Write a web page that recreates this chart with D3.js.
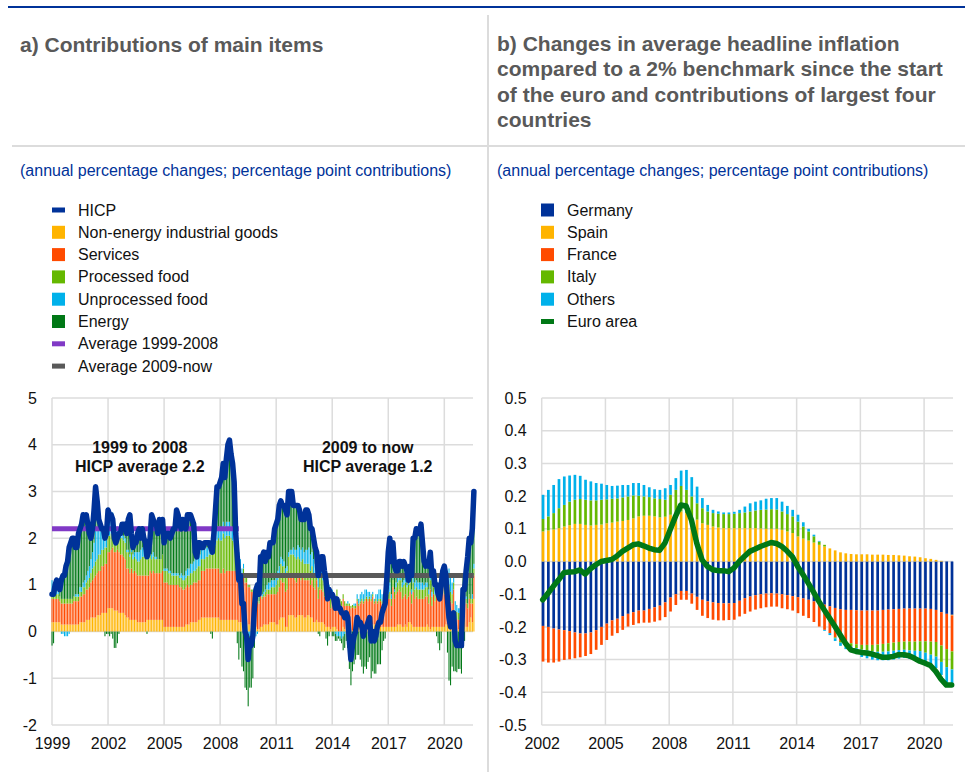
<!DOCTYPE html>
<html>
<head>
<meta charset="utf-8">
<script src="https://cdn.jsdelivr.net/npm/d3@7"></script>
<style>
  body { margin: 0; background: #fff; }
  svg { font-family: "Liberation Sans", Arial, sans-serif; }
</style>
</head>
<body>
<div id="chart"></div>
<script>
// ---------- panel a: monthly, Jan 1999 - Aug 2021 ----------
const hicp = [
  0.8,0.8,1.0,1.1,1.0,0.9,1.1,1.2,1.2,1.4,1.5,1.8,        // 1999
  1.9,2.0,2.0,1.8,1.8,2.1,2.2,2.3,2.5,2.4,2.5,2.3,        // 2000
  2.1,2.0,2.2,2.6,3.1,2.8,2.4,2.3,2.2,2.2,2.0,2.1,        // 2001
  2.6,2.5,2.5,2.4,2.0,1.9,2.0,2.1,2.1,2.3,2.3,2.3,        // 2002
  2.1,2.4,2.5,2.1,1.8,1.9,1.9,2.1,2.2,2.0,2.2,2.0,        // 2003
  1.9,1.6,1.7,2.0,2.5,2.4,2.3,2.3,2.1,2.4,2.2,2.4,        // 2004
  1.9,2.1,2.1,2.1,2.0,2.1,2.2,2.2,2.6,2.5,2.3,2.2,        // 2005
  2.4,2.3,2.2,2.5,2.5,2.5,2.4,2.3,1.7,1.6,1.9,1.9,        // 2006
  1.8,1.8,1.9,1.9,1.9,1.9,1.8,1.7,2.1,2.6,3.1,3.1,        // 2007
  3.2,3.3,3.6,3.3,3.7,4.0,4.1,3.8,3.6,3.2,2.1,1.6,        // 2008
  1.1,1.2,0.6,0.6,0.0,-0.1,-0.6,-0.2,-0.3,-0.1,0.5,0.9,   // 2009
  1.0,0.8,1.6,1.6,1.7,1.5,1.7,1.6,1.9,1.9,1.9,2.2,        // 2010
  2.3,2.4,2.7,2.8,2.7,2.7,2.6,2.5,3.0,3.0,3.0,2.7,        // 2011
  2.7,2.7,2.7,2.6,2.4,2.4,2.4,2.6,2.6,2.5,2.2,2.2,        // 2012
  2.0,1.8,1.7,1.2,1.4,1.6,1.6,1.3,1.1,0.7,0.9,0.8,        // 2013
  0.8,0.7,0.5,0.7,0.5,0.5,0.4,0.4,0.3,0.4,0.3,-0.2,       // 2014
  -0.6,-0.3,-0.1,0.0,0.3,0.2,0.2,0.1,-0.1,0.1,0.1,0.2,    // 2015
  0.3,-0.2,0.0,-0.2,-0.1,0.1,0.2,0.2,0.4,0.5,0.6,1.1,     // 2016
  1.7,2.0,1.5,1.9,1.4,1.3,1.3,1.5,1.5,1.4,1.5,1.4,        // 2017
  1.3,1.1,1.4,1.2,2.0,2.0,2.2,2.1,2.1,2.3,1.9,1.5,        // 2018
  1.4,1.5,1.4,1.7,1.2,1.3,1.0,1.0,0.8,0.7,1.0,1.3,        // 2019
  1.4,1.2,0.7,0.3,0.1,0.3,0.4,-0.2,-0.3,-0.3,-0.3,-0.3,   // 2020
  0.9,0.9,1.3,1.6,2.0,1.9,2.2,3.0                         // 2021
];

const neig = [
  .2,.2,.2,.2,.2,.2,.15,.15,.15,.15,.15,.15,
  .15,.15,.15,.15,.15,.15,.2,.2,.2,.2,.25,.25,
  .25,.3,.3,.3,.3,.35,.35,.35,.4,.4,.4,.4,
  .5,.5,.5,.5,.45,.45,.45,.4,.4,.4,.4,.35,
  .3,.3,.25,.25,.25,.25,.25,.2,.2,.2,.2,.2,
  .2,.25,.25,.25,.25,.25,.25,.25,.25,.25,.25,.25,
  .1,.1,.1,.1,.1,.1,.1,.1,.1,.1,.1,.1,
  .1,.1,.15,.15,.15,.2,.2,.2,.2,.2,.25,.25,
  .3,.3,.3,.3,.3,.3,.3,.3,.3,.3,.3,.3,
  .25,.25,.25,.25,.25,.25,.25,.25,.25,.25,.25,.25,
  .2,.2,.2,.2,.2,.2,.15,.15,.1,.1,.1,.1,
  .05,.05,.1,.1,.15,.15,.15,.15,.2,.2,.2,.2,
  .15,.15,.25,.3,.3,.3,.1,.1,.35,.35,.35,.35,
  .3,.3,.35,.35,.35,.35,.3,.3,.35,.35,.3,.3,
  .2,.2,.25,.2,.2,.2,.2,.15,.1,.1,.1,.05,
  .1,.1,.1,.05,0,0,0,.1,.05,0,0,0,
  0,.02,.05,.05,.05,.1,.1,.1,.1,.1,.15,.15,
  .15,.2,.15,.15,.15,.1,.1,.1,.1,.1,.1,.1,
  .1,.1,.1,.1,.1,.1,.15,.15,.15,.1,.1,.15,
  .1,.2,.2,.15,.1,.1,.1,.1,.1,.1,.1,.1,
  .1,.15,.1,.05,.1,.1,.1,.1,.1,.1,.1,.1,
  .1,.15,.15,.1,.1,.05,.45,-.05,.02,.05,-.02,.05,
  .4,.3,.1,.1,.2,.3,.2,.7
];

const services = [
  .5,.5,.5,.5,.5,.45,.45,.45,.45,.45,.45,.45,
  .45,.45,.5,.5,.5,.5,.55,.55,.6,.6,.65,.65,
  .7,.75,.8,.85,.9,.9,.95,.95,1.0,1.0,1.05,1.05,
  1.2,1.2,1.25,1.3,1.25,1.25,1.3,1.3,1.25,1.25,1.2,1.2,
  1.05,1.05,1.0,1.1,1.0,1.05,1.0,1.0,1.0,1.0,1.0,1.0,
  1.0,.95,.95,1.05,1.0,1.05,1.0,1.0,1.0,1.0,1.0,1.05,
  .95,.95,.95,.9,.9,.9,.9,.9,.9,.9,.85,.85,
  .8,.8,.8,.85,.8,.8,.8,.85,.85,.85,.85,.85,
  1.0,1.0,1.0,1.05,1.05,1.05,1.05,1.05,1.05,1.05,1.05,1.05,
  1.0,1.0,1.1,1.0,1.05,1.05,1.05,1.05,1.05,1.05,1.05,1.0,
  .95,.9,.8,1.0,.85,.85,.8,.8,.75,.75,.7,.7,
  .6,.55,.7,.6,.6,.6,.65,.65,.6,.6,.6,.6,
  .65,.7,.7,.8,.75,.75,.75,.8,.8,.8,.8,.8,
  .8,.75,.8,.8,.75,.8,.8,.8,.75,.75,.7,.8,
  .75,.7,.85,.5,.7,.7,.65,.6,.65,.55,.6,.45,
  .6,.55,.45,.7,.5,.6,.55,.6,.5,.55,.55,.55,
  .5,.5,.45,.45,.6,.45,.5,.55,.5,.55,.55,.5,
  .55,.45,.6,.45,.5,.5,.55,.55,.5,.5,.5,.55,
  .6,.6,.45,.85,.6,.7,.7,.75,.7,.6,.65,.65,
  .6,.55,.65,.45,.75,.6,.65,.6,.6,.6,.6,.6,
  .65,.6,.5,.85,.45,.7,.55,.65,.65,.7,.85,.85,
  .7,.7,.6,.7,.55,.55,.45,.3,.25,.2,.25,.3,
  .6,.55,.5,.4,.5,.3,.4,.5
];

const procFood = [
  .15,.15,.15,.1,.1,.1,.1,.1,.1,.1,.1,.1,
  .1,.1,.1,.1,.1,.1,.1,.1,.15,.15,.15,.2,
  .2,.2,.25,.25,.3,.3,.35,.35,.35,.35,.35,.35,
  .35,.35,.35,.35,.35,.35,.35,.35,.35,.35,.35,.35,
  .35,.35,.35,.35,.3,.3,.3,.3,.3,.35,.4,.4,
  .4,.35,.35,.35,.3,.3,.3,.3,.3,.3,.3,.35,
  .25,.25,.25,.25,.25,.2,.2,.2,.2,.2,.2,.2,
  .2,.2,.2,.2,.25,.25,.25,.25,.25,.3,.3,.3,
  .25,.25,.25,.25,.25,.3,.3,.35,.4,.5,.6,.65,
  .7,.7,.75,.75,.75,.75,.75,.7,.65,.6,.5,.4,
  .3,.25,.2,.15,.1,.1,.05,.05,.05,.05,.05,.05,
  .05,.05,.05,.05,.05,.1,.1,.1,.1,.15,.15,.15,
  .2,.25,.3,.35,.35,.35,.4,.4,.45,.5,.5,.5,
  .5,.5,.45,.4,.4,.4,.35,.35,.35,.35,.3,.3,
  .3,.3,.25,.25,.25,.25,.25,.25,.25,.2,.2,.2,
  .15,.15,.15,.15,.15,.1,.1,.1,.1,.05,.05,.05,
  .05,.05,.05,.05,.05,.05,.05,.05,.05,.05,.05,.05,
  .05,.05,.05,.05,.05,.05,.05,.05,.05,.05,.1,.1,
  .1,.15,.15,.15,.15,.15,.2,.2,.25,.25,.25,.25,
  .25,.25,.2,.2,.2,.2,.2,.2,.2,.2,.2,.2,
  .2,.2,.2,.2,.2,.15,.15,.15,.15,.15,.15,.15,
  .15,.15,.15,.2,.2,.2,.15,.15,.15,.15,.15,.15,
  .15,.15,.1,.1,.1,.1,.1,.15
];

const unprocFood = [
  .25,.2,.15,.1,.05,0,-.05,-.05,-.1,-.1,-.1,-.05,
  0,0,0,.05,.05,.05,.1,.1,.1,.15,.15,.2,
  .25,.3,.35,.5,.65,.6,.55,.5,.4,.3,.3,.35,
  .6,.55,.45,.4,.3,.2,.15,.1,.1,.15,.1,.1,
  .05,.05,.05,.05,.1,.1,.15,.2,.2,.2,.2,.15,
  .15,.1,.1,.1,.1,.1,.05,.05,0,0,0,0,
  .05,.05,.05,.05,.05,.05,.05,.05,.05,.05,.05,.1,
  .1,.1,.15,.15,.15,.2,.2,.2,.25,.25,.25,.25,
  .2,.2,.2,.2,.2,.2,.2,.15,.2,.2,.25,.25,
  .25,.25,.25,.25,.3,.3,.3,.25,.25,.25,.25,.2,
  .25,.2,.15,.1,.05,0,-.05,-.1,-.1,-.1,-.1,-.1,
  -.05,0,.05,.05,.05,.05,.1,.15,.15,.15,.15,.15,
  .15,.2,.15,.15,.15,.1,.1,.1,.1,.1,.1,.15,
  .15,.2,.25,.25,.25,.25,.25,.3,.3,.35,.35,.3,
  .3,.25,.3,.3,.35,.35,.35,.3,.25,.15,.1,.1,
  .05,0,-.05,-.1,-.1,-.1,-.15,-.1,-.05,0,.05,0,
  0,0,.05,.05,.1,.1,.15,.15,.15,.2,.15,.15,
  .1,.1,.05,.05,.1,.15,.2,.2,.15,.05,.05,.1,
  .1,.2,.1,0,.05,.1,.1,.1,.1,.1,.1,.1,
  .05,.05,.05,.1,.1,.15,.15,.15,.15,.15,.15,.1,
  .1,.1,.1,.1,.1,.15,.2,.2,.15,.15,.15,.15,
  .15,.2,.25,.35,.4,.25,.2,.2,.15,.1,.1,.1,
  .1,.1,.05,0,0,0,.1,.1
];

const energy = [
  -.3,-.25,0,.2,.15,.15,.45,.55,.6,.8,.9,1.15,
  1.2,1.3,1.25,1.0,1.0,1.3,1.25,1.35,1.45,1.3,1.3,1.0,
  .7,.45,.5,.7,.95,.65,.2,.15,.05,.1,-.1,-.05,
  -.05,-.1,-.05,-.15,-.35,-.35,-.25,-.05,0,.15,.25,.3,
  .35,.65,.85,.35,.15,.2,.2,.4,.5,.25,.4,.25,
  .15,-.05,.05,.25,.85,.7,.7,.7,.55,.85,.65,.75,
  .55,.75,.75,.8,.7,.85,.95,.95,1.35,1.25,1.1,.95,
  1.2,1.1,.9,1.15,1.15,1.05,.95,.8,.15,0,.25,.25,
  .05,.05,.15,.1,.1,.05,-.05,-.15,.15,.55,.9,.85,
  1.0,1.1,1.25,1.05,1.35,1.65,1.75,1.55,1.4,1.05,.05,-.25,
  -.6,-.35,-.75,-.85,-1.2,-1.25,-1.55,-1.1,-1.1,-.9,-.25,.15,
  .35,.15,.7,.8,.85,.6,.7,.55,.85,.8,.8,1.1,
  1.15,1.1,1.3,1.2,1.15,1.2,1.25,1.1,1.3,1.25,1.25,.9,
  .95,.95,.85,.8,.65,.6,.7,.85,.85,.7,.55,.5,
  .45,.35,.05,-.05,-.1,.1,.15,0,-.15,-.3,-.1,0,
  -.1,-.1,-.15,-.1,-.05,-.1,-.1,-.3,-.3,-.2,-.35,-.8,
  -1.15,-.85,-.7,-.6,-.5,-.5,-.6,-.75,-.9,-.75,-.8,-.65,
  -.55,-1.0,-.85,-.9,-.9,-.7,-.7,-.7,-.4,-.2,-.15,.25,
  .8,.95,.7,.8,.5,.25,.15,.3,.3,.35,.4,.25,
  .3,.05,.3,.3,.85,.95,1.1,1.05,1.05,1.25,.85,.5,
  .35,.45,.5,.5,.35,.2,0,-.1,-.25,-.4,-.25,.05,
  .3,0,-.45,-1.05,-1.15,-.75,-.85,-.8,-.87,-.8,-.78,-.9,
  -.35,-.2,.55,1.0,1.2,1.2,1.4,1.55
];

const avgLabels = ["Average 1999-2008", "Average 2009-now"];
const avgValues = [2.2, 1.2];
const avgFrom = [1999, 2009];
const avgTo = [2009, 2021.58];

const yearTicksA = [1999, 2002, 2005, 2008, 2011, 2014, 2017, 2020];
const valueTicksA = [-2, -1, 0, 1, 2, 3, 4, 5];

// ---------- panel b: quarterly, 2002Q1 - 2021Q2 ----------
const germany = [
  -0.197,-0.200,-0.205,-0.208, -0.210,-0.213,-0.217,-0.220,
  -0.220,-0.217,-0.210,-0.200, -0.190,-0.180,-0.175,-0.167,
  -0.160,-0.155,-0.150,-0.150, -0.145,-0.140,-0.135,-0.125,
  -0.110,-0.100,-0.090,-0.090, -0.098,-0.108,-0.117,-0.122,
  -0.125,-0.127,-0.128,-0.128, -0.127,-0.120,-0.112,-0.107,
  -0.103,-0.100,-0.098,-0.097, -0.098,-0.100,-0.103,-0.106,
  -0.109,-0.113,-0.117,-0.122, -0.127,-0.132,-0.137,-0.142,
  -0.146,-0.148,-0.148,-0.149, -0.150,-0.150,-0.150,-0.150,
  -0.148,-0.147,-0.146,-0.145, -0.144,-0.144,-0.144,-0.144,
  -0.144,-0.145,-0.148,-0.155, -0.160,-0.163
];
const spain = [
  0.092,0.095,0.098,0.102, 0.107,0.111,0.115,0.115,
  0.112,0.110,0.112,0.113, 0.117,0.119,0.122,0.124,
  0.127,0.132,0.138,0.140, 0.140,0.138,0.135,0.137,
  0.143,0.148,0.153,0.148, 0.138,0.128,0.117,0.112,
  0.107,0.104,0.102,0.102, 0.102,0.102,0.102,0.102,
  0.102,0.101,0.100,0.100, 0.100,0.097,0.092,0.087,
  0.077,0.070,0.064,0.058, 0.051,0.046,0.040,0.034,
  0.028,0.025,0.023,0.022, 0.022,0.022,0.021,0.021,
  0.021,0.020,0.020,0.019, 0.018,0.016,0.015,0.013,
  0.010,0.008,0.005,0.002, 0.000,-0.002
];
const france = [
  -0.109,-0.109,-0.104,-0.098, -0.091,-0.086,-0.079,-0.073,
  -0.069,-0.066,-0.060,-0.055, -0.050,-0.047,-0.044,-0.042,
  -0.039,-0.039,-0.039,-0.037, -0.042,-0.044,-0.045,-0.045,
  -0.043,-0.033,-0.027,-0.027, -0.031,-0.040,-0.049,-0.051,
  -0.053,-0.053,-0.052,-0.051, -0.051,-0.048,-0.048,-0.046,
  -0.044,-0.043,-0.042,-0.041, -0.040,-0.043,-0.043,-0.044,
  -0.049,-0.053,-0.056,-0.063, -0.072,-0.077,-0.082,-0.090,
  -0.097,-0.100,-0.102,-0.104, -0.105,-0.105,-0.105,-0.104,
  -0.104,-0.103,-0.102,-0.101, -0.101,-0.101,-0.101,-0.100,
  -0.100,-0.100,-0.098,-0.102, -0.108,-0.110
];
const italy = [
  0.038,0.043,0.050,0.061, 0.066,0.072,0.074,0.076,
  0.077,0.077,0.075,0.076, 0.073,0.073,0.071,0.072,
  0.072,0.070,0.063,0.059, 0.057,0.055,0.056,0.052,
  0.061,0.071,0.078,0.071, 0.061,0.050,0.046,0.041,
  0.041,0.042,0.043,0.043, 0.044,0.046,0.048,0.051,
  0.054,0.057,0.059,0.060, 0.059,0.056,0.053,0.051,
  0.045,0.037,0.028,0.019, 0.010,0.005,0.000,-0.003,
  -0.005,-0.008,-0.010,-0.012, -0.015,-0.017,-0.020,-0.022,
  -0.024,-0.025,-0.025,-0.025, -0.025,-0.027,-0.028,-0.030,
  -0.035,-0.040,-0.045,-0.050, -0.055,-0.055
];
const others = [
  0.074,0.081,0.086,0.089, 0.087,0.080,0.076,0.071,
  0.061,0.058,0.053,0.049, 0.044,0.039,0.039,0.038,
  0.035,0.038,0.039,0.035, 0.030,0.028,0.028,0.035,
  0.030,0.036,0.047,0.061, 0.059,0.051,0.031,0.020,
  0.010,0.007,0.005,0.005, 0.006,0.010,0.018,0.025,
  0.027,0.029,0.033,0.034, 0.035,0.030,0.025,0.020,
  0.021,0.013,0.008,0.005, 0.002,-0.003,-0.006,-0.008,
  -0.010,-0.012,-0.015,-0.018, -0.022,-0.024,-0.025,-0.026,
  -0.026,-0.027,-0.027,-0.026, -0.025,-0.026,-0.028,-0.030,
  -0.030,-0.032,-0.035,-0.040, -0.048,-0.050
];
const euroArea = [
  -0.117,-0.097,-0.076,-0.056, -0.034,-0.032,-0.031,-0.026,
  -0.038,-0.022,-0.010,0.000, 0.003,0.006,0.017,0.031,
  0.041,0.051,0.054,0.048, 0.041,0.036,0.034,0.056,
  0.097,0.138,0.173,0.170, 0.127,0.056,0.005,-0.015,
  -0.025,-0.028,-0.028,-0.031, -0.020,0.000,0.016,0.031,
  0.038,0.046,0.052,0.058, 0.055,0.046,0.032,0.015,
  -0.015,-0.040,-0.066,-0.094, -0.122,-0.148,-0.173,-0.198,
  -0.224,-0.250,-0.270,-0.275, -0.278,-0.280,-0.283,-0.288,
  -0.293,-0.293,-0.290,-0.285, -0.285,-0.288,-0.296,-0.305,
  -0.311,-0.318,-0.336,-0.360, -0.378,-0.378
];

const yearTicksB = [2002, 2005, 2008, 2011, 2014, 2017, 2020];
const valueTicksB = [-0.5, -0.4, -0.3, -0.2, -0.1, 0, 0.1, 0.2, 0.3, 0.4, 0.5];

// ---------- page frame ----------
const width = 965, height = 772;
const gridColor = "#dcdcdc";
const svg = d3.select("#chart").append("svg")
  .attr("width", width)
  .attr("height", height);

svg.append("line").attr("x1", 8).attr("x2", 965).attr("y1", 7).attr("y2", 7)
  .attr("stroke", "#003299").attr("stroke-width", 2);
svg.append("line").attr("x1", 488).attr("x2", 488).attr("y1", 15).attr("y2", 772)
  .attr("stroke", gridColor).attr("stroke-width", 2);
svg.append("line").attr("x1", 12).attr("x2", 965).attr("y1", 146).attr("y2", 146)
  .attr("stroke", gridColor).attr("stroke-width", 2);

svg.append("text").attr("x", 20).attr("y", 51.5)
  .attr("font-size", 21).attr("font-weight", "bold").attr("fill", "#595959")
  .text("a) Contributions of main items");

const titleB = ["b) Changes in average headline inflation",
  "compared to a 2% benchmark since the start",
  "of the euro and contributions of largest four",
  "countries"];
svg.append("text").attr("font-size", 21).attr("font-weight", "bold").attr("fill", "#595959")
  .selectAll("tspan").data(titleB).join("tspan")
  .attr("x", 497).attr("y", (d, i) => 51 + i * 25.3)
  .text(d => d);

[20, 497].forEach(x => {
  svg.append("text").attr("x", x).attr("y", 176)
    .attr("font-size", 16).attr("fill", "#003299")
    .text("(annual percentage changes; percentage point contributions)");
});

// legend helper
function legend(x0, items) {
  const g = svg.append("g");
  items.forEach((it, i) => {
    const cy = 210 + i * 22.3;
    if (it.type === "line") {
      g.append("rect").attr("x", x0).attr("y", cy - 2.5).attr("width", 13).attr("height", 5).attr("fill", it.color);
    } else {
      g.append("rect").attr("x", x0).attr("y", cy - 6.5).attr("width", 13).attr("height", 13).attr("fill", it.color);
    }
    g.append("text").attr("x", x0 + 26).attr("y", cy + 5.5)
      .attr("font-size", 16).attr("fill", "#111").text(it.name);
  });
}

// ---------- panel a ----------
const xA = d3.scaleLinear().domain([1999, 2021.6]).range([52, 474.2]);
const yA = d3.scaleLinear().domain([-2, 5]).range([725, 398]);

const keysA = ["neig", "services", "procFood", "unprocFood", "energy"];
const namesA = ["Non-energy industrial goods", "Services", "Processed food", "Unprocessed food", "Energy"];
const colorA = { neig: "#ffb400", services: "#ff4b00", procFood: "#65b800", unprocFood: "#00b1ea", energy: "#007816" };
const tA = hicp.map((v, i) => 1999 + i / 12);
const rowsA = tA.map((t, i) => ({
  t, neig: neig[i], services: services[i], procFood: procFood[i], unprocFood: unprocFood[i], energy: energy[i]
}));
const stackA = d3.stack().keys(keysA).offset(d3.stackOffsetDiverging)(rowsA);

const gA = svg.append("g");
gA.selectAll("line.h").data(valueTicksA).join("line")
  .attr("x1", xA(1999)).attr("x2", 473).attr("y1", d => yA(d)).attr("y2", d => yA(d))
  .attr("stroke", gridColor).attr("stroke-width", 1.5);
gA.selectAll("line.v").data(yearTicksA).join("line")
  .attr("y1", yA(5)).attr("y2", yA(-2)).attr("x1", d => xA(d)).attr("x2", d => xA(d))
  .attr("stroke", gridColor).attr("stroke-width", 1.5);

gA.append("g").selectAll("g").data(stackA).join("g")
  .attr("fill", d => colorA[d.key])
  .selectAll("rect").data(d => d).join("rect")
  .attr("x", d => xA(d.data.t) - 0.5)
  .attr("width", 1.05)
  .attr("y", d => yA(d[1]))
  .attr("height", d => Math.max(0, yA(d[0]) - yA(d[1])));

const avgColors = ["#8139c6", "#595959"];
avgValues.forEach((v, i) => {
  gA.append("line")
    .attr("x1", xA(avgFrom[i])).attr("x2", xA(avgTo[i]))
    .attr("y1", yA(v)).attr("y2", yA(v))
    .attr("stroke", avgColors[i]).attr("stroke-width", 5);
});

gA.append("path").datum(hicp)
  .attr("fill", "none").attr("stroke", "#003299").attr("stroke-width", 5.5)
  .attr("stroke-linejoin", "round").attr("stroke-linecap", "round")
  .attr("d", d3.line().x((d, i) => xA(tA[i])).y(d => yA(d)));

const notesA = [
  { t: 2003.7, lines: ["1999 to 2008", "HICP average 2.2"] },
  { t: 2015.9, lines: ["2009 to now", "HICP average 1.2"] }
];
notesA.forEach(n => {
  gA.append("text").attr("text-anchor", "middle").attr("font-size", 16).attr("font-weight", "bold").attr("fill", "#111")
    .selectAll("tspan").data(n.lines).join("tspan")
    .attr("x", xA(n.t)).attr("y", (d, i) => 453 + i * 18.5).text(d => d);
});

gA.append("g").attr("transform", `translate(${xA(1999)},0)`)
  .call(d3.axisLeft(yA).tickValues(valueTicksA).tickSize(0).tickPadding(15).tickFormat(d => String(d)))
  .call(g => g.select(".domain").remove())
  .selectAll("text").attr("font-size", 16).attr("font-family", "Liberation Sans, Arial, sans-serif").attr("fill", "#111");
gA.append("g").attr("transform", `translate(0,${yA(-2)})`)
  .call(d3.axisBottom(xA).tickValues(yearTicksA).tickSize(0).tickPadding(13).tickFormat(d => String(d)))
  .call(g => g.select(".domain").remove())
  .selectAll("text").attr("font-size", 16).attr("font-family", "Liberation Sans, Arial, sans-serif").attr("fill", "#111");

legend(52, [{ name: "HICP", color: "#003299", type: "line" }]
  .concat(keysA.map((k, i) => ({ name: namesA[i], color: colorA[k], type: "box" })))
  .concat(avgLabels.map((n, i) => ({ name: n, color: avgColors[i], type: "line" }))));

// ---------- panel b ----------
const xB = d3.scaleLinear().domain([2002, 2021.36]).range([541.7, 953]);
const yB = d3.scaleLinear().domain([-0.5, 0.5]).range([725, 398]);

const keysB = ["germany", "spain", "france", "italy", "others"];
const namesB = ["Germany", "Spain", "France", "Italy", "Others"];
const colorB = { germany: "#003299", spain: "#ffb400", france: "#ff4b00", italy: "#65b800", others: "#00b1ea" };
const tB = germany.map((v, i) => 2002 + i / 4);
const rowsB = tB.map((t, i) => ({
  t, germany: germany[i], spain: spain[i], france: france[i], italy: italy[i], others: others[i]
}));
const stackB = d3.stack().keys(keysB).offset(d3.stackOffsetDiverging)(rowsB);

const gB = svg.append("g");
gB.selectAll("line.h").data(valueTicksB).join("line")
  .attr("x1", xB(2002)).attr("x2", 953).attr("y1", d => yB(d)).attr("y2", d => yB(d))
  .attr("stroke", gridColor).attr("stroke-width", 1.5);
gB.selectAll("line.v").data(yearTicksB).join("line")
  .attr("y1", yB(0.5)).attr("y2", yB(-0.5)).attr("x1", d => xB(d)).attr("x2", d => xB(d))
  .attr("stroke", gridColor).attr("stroke-width", 1.5);

gB.append("g").selectAll("g").data(stackB).join("g")
  .attr("fill", d => colorB[d.key])
  .selectAll("rect").data(d => d).join("rect")
  .attr("x", d => xB(d.data.t))
  .attr("width", 2.7)
  .attr("y", d => yB(d[1]))
  .attr("height", d => Math.max(0, yB(d[0]) - yB(d[1])));

gB.append("path").datum(euroArea)
  .attr("fill", "none").attr("stroke", "#007816").attr("stroke-width", 5.5)
  .attr("stroke-linejoin", "round").attr("stroke-linecap", "round")
  .attr("d", d3.line().x((d, i) => xB(tB[i]) + 1).y(d => yB(d)));

gB.append("g").attr("transform", `translate(${xB(2002)},0)`)
  .call(d3.axisLeft(yB).tickValues(valueTicksB).tickSize(0).tickPadding(15).tickFormat(d => d.toFixed(1)))
  .call(g => g.select(".domain").remove())
  .selectAll("text").attr("font-size", 16).attr("font-family", "Liberation Sans, Arial, sans-serif").attr("fill", "#111");
gB.append("g").attr("transform", `translate(0,${yB(-0.5)})`)
  .call(d3.axisBottom(xB).tickValues(yearTicksB).tickSize(0).tickPadding(13).tickFormat(d => String(d)))
  .call(g => g.select(".domain").remove())
  .selectAll("text").attr("font-size", 16).attr("font-family", "Liberation Sans, Arial, sans-serif").attr("fill", "#111");

legend(541, keysB.map((k, i) => ({ name: namesB[i], color: colorB[k], type: "box" }))
  .concat([{ name: "Euro area", color: "#007816", type: "line" }]));
</script>
</body>
</html>
